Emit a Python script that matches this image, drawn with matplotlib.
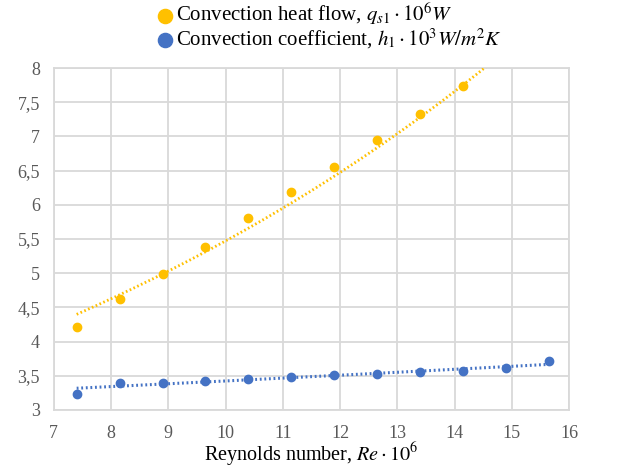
import numpy as np
import matplotlib
matplotlib.use("Agg")
import matplotlib.pyplot as plt
from matplotlib.ticker import FuncFormatter, MultipleLocator

plt.rcParams["font.family"] = ["Liberation Serif", "DejaVu Serif"]
plt.rcParams["mathtext.fontset"] = "stix"

# Reynolds number (x 10^6)
re_values = [7.40, 8.15, 8.90, 9.65, 10.40, 11.15, 11.90, 12.65, 13.40, 14.15, 14.90, 15.65]

# convection heat flow q_s1 (x 10^6 W); last two lie above the axis limit
heat_flow = [4.22, 4.62, 4.99, 5.38, 5.80, 6.18, 6.55, 6.95, 7.33, 7.73, 8.12, 8.52]
# convection coefficient h_1 (x 10^3 W/m2K)
coef = [3.24, 3.40, 3.40, 3.43, 3.46, 3.48, 3.51, 3.52, 3.55, 3.57, 3.61, 3.71]

orange = "#FFC000"
blue = "#4472C4"
grid_col = "#D9D9D9"
txt_col = "#595959"


def exp_trend(x, y, xs):
    b, a = np.polyfit(x, np.log(y), 1)
    return np.exp(a + b * xs)


fig = plt.figure(figsize=(6.21, 4.70), dpi=100)
ax = fig.add_axes([0.0866, 0.1277, 0.8297, 0.7276])

xs = np.linspace(re_values[0], re_values[-1], 200)
ax.plot(xs, exp_trend(re_values, heat_flow, xs), color=orange, lw=2,
        ls=(0, (0.6, 0.9)), zorder=3)
ax.plot(xs, exp_trend(re_values, coef, xs), color=blue, lw=2.2,
        ls=(0, (0.6, 0.9)), zorder=3)

ax.scatter(re_values, heat_flow, s=36, color=orange, zorder=4,
           label=r"Convection heat flow, $q_{s1} \cdot 10^6 W$")
ax.scatter(re_values, coef, s=36, color=blue, zorder=4,
           label=r"Convection coefficient, $h_1 \cdot 10^3 W/m^2K$")

ax.set_xlim(7, 16)
ax.set_ylim(3, 8)
ax.xaxis.set_major_locator(MultipleLocator(1))
ax.yaxis.set_major_locator(MultipleLocator(0.5))
ax.yaxis.set_major_formatter(FuncFormatter(
    lambda v, p: ("%g" % v).replace(".", ",")))
ax.grid(True, color=grid_col, lw=1.3)
ax.set_axisbelow(True)
for s in ax.spines.values():
    s.set_color(grid_col)
    s.set_linewidth(1.3)
ax.tick_params(length=0, labelsize=13, labelcolor=txt_col)
ax.tick_params(axis="x", pad=11)
ax.tick_params(axis="y", pad=10)

ax.set_xlabel(r"Reynolds number, $Re \cdot 10^6$", fontsize=14.5, labelpad=-1)

fig.legend(loc="upper center", bbox_to_anchor=(0.52, 1.025), frameon=False,
           fontsize=15, handletextpad=-0.45, labelspacing=0.0,
           markerscale=1.7, borderaxespad=0.2)

fig.savefig("out.png", dpi=100)
